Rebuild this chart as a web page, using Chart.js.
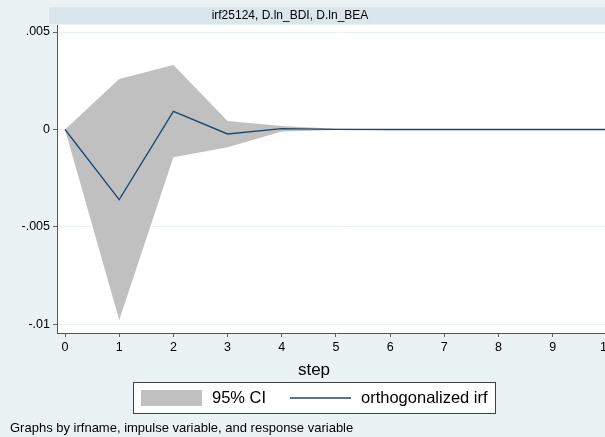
<!DOCTYPE html>
<html>
<head>
<meta charset="utf-8">
<script src="https://cdn.jsdelivr.net/npm/chart.js@4"></script>
<style>
  html, body { margin: 0; padding: 0; background: #eaf2f3; overflow: hidden; }
  #wrap { width: 605px; height: 437px; overflow: hidden; position: relative; }
  canvas { display: block; }
</style>
</head>
<body>
<div id="wrap"><canvas id="c" width="640" height="437"></canvas></div>
<script>
// Impulse response of D.ln_BEA to an orthogonalized shock in D.ln_BDI
const steps = [0, 1, 2, 3, 4, 5, 6, 7, 8, 9, 10];
const irf   = [0, -0.0036, 0.00093, -0.00023, 0.00004, 0.00001, 0, 0, 0, 0, 0];
const ciUpper = [0, 0.00259, 0.00331, 0.00044, 0.00018, 0.00004, 0.00001, 0, 0, 0, 0];
const ciLower = [0, -0.00977, -0.00143, -0.00091, -0.0001, -0.00002, -0.00001, 0, 0, 0, 0];
const yTicks = [-0.01, -0.005, 0, 0.005];
const xTicks = [0, 1, 2, 3, 4, 5, 6, 7, 8, 9, 10];
const panelTitle = 'irf25124, D.ln_BDI, D.ln_BEA';
const xTitle = 'step';
const legendLabels = ['95% CI', 'orthogonalized irf'];
const byNote = 'Graphs by irfname, impulse variable, and response variable';

const FONT = 'Liberation Sans, Arial, sans-serif';
const LINE_COLOR = '#1a476f';
const BAND_COLOR = '#c0c0c0';

function fmtTick(v) {
  if (Math.abs(v) < 1e-12) return '0';
  let s = String(+v.toFixed(6));
  return s.replace(/^(-?)0\./, '$1.');
}

const pts = arr => steps.map((s, i) => ({ x: s, y: arr[i] }));

// Panel strip, axis title, legend box and note drawn around the plot region
const decor = {
  id: 'decor',
  beforeDraw(chart) {
    const { ctx, chartArea } = chart;
    ctx.save();
    ctx.fillStyle = '#eaf2f3';
    ctx.fillRect(0, 0, chart.width, chart.height);
    // title strip
    ctx.fillStyle = '#d9e6eb';
    ctx.fillRect(49, 7, chart.width - 49, 17);
    ctx.fillStyle = '#000';
    ctx.font = '12px ' + FONT;
    ctx.textAlign = 'center';
    ctx.textBaseline = 'middle';
    ctx.fillText(panelTitle, 290, 16);
    // white plot region
    ctx.fillStyle = '#ffffff';
    ctx.fillRect(chartArea.left, chartArea.top, chartArea.right - chartArea.left, chartArea.bottom - chartArea.top);
    ctx.restore();
  },
  afterDraw(chart) {
    const { ctx } = chart;
    ctx.save();
    // x axis title
    ctx.fillStyle = '#000';
    ctx.font = '17px ' + FONT;
    ctx.textAlign = 'center';
    ctx.textBaseline = 'middle';
    ctx.fillText(xTitle, 314, 370);
    // legend box
    ctx.fillStyle = '#ffffff';
    ctx.fillRect(133.5, 382.5, 362, 31);
    ctx.strokeStyle = '#404040';
    ctx.lineWidth = 1;
    ctx.strokeRect(133.5, 382.5, 362, 31);
    ctx.fillStyle = BAND_COLOR;
    ctx.fillRect(141, 390, 61, 16);
    ctx.strokeStyle = LINE_COLOR;
    ctx.lineWidth = 1.3;
    ctx.beginPath();
    ctx.moveTo(290, 398);
    ctx.lineTo(351, 398);
    ctx.stroke();
    ctx.fillStyle = '#000';
    ctx.font = '16.5px ' + FONT;
    ctx.textAlign = 'left';
    ctx.textBaseline = 'middle';
    ctx.fillText(legendLabels[0], 212, 398);
    ctx.fillText(legendLabels[1], 361, 398);
    // note
    ctx.font = '13px ' + FONT;
    ctx.fillText(byNote, 10, 428);
    ctx.restore();
  }
};

new Chart(document.getElementById('c'), {
  type: 'line',
  data: {
    datasets: [
      {
        label: legendLabels[1],
        data: pts(irf),
        borderColor: LINE_COLOR,
        borderWidth: 1.3,
        pointRadius: 0,
        fill: false,
        tension: 0
      },
      {
        label: 'upper',
        data: pts(ciUpper),
        borderWidth: 0,
        borderColor: 'rgba(0,0,0,0)',
        backgroundColor: BAND_COLOR,
        pointRadius: 0,
        fill: '+1',
        tension: 0
      },
      {
        label: 'lower',
        data: pts(ciLower),
        borderWidth: 0,
        borderColor: 'rgba(0,0,0,0)',
        backgroundColor: BAND_COLOR,
        pointRadius: 0,
        fill: false,
        tension: 0
      }
    ]
  },
  options: {
    responsive: false,
    animation: false,
    devicePixelRatio: 1,
    layout: { padding: { top: 25, left: 0, right: 25, bottom: 0 } },
    plugins: { legend: { display: false }, tooltip: { enabled: false } },
    scales: {
      x: {
        type: 'linear',
        min: -0.148,
        max: 10.15,
        afterBuildTicks(scale) { scale.ticks = xTicks.map(v => ({ value: v })); },
        afterFit(scale) { scale.height = 104; },
        ticks: {
          color: '#000',
          font: { family: FONT, size: 12.5 },
          padding: 3,
          maxRotation: 0,
          autoSkip: false,
          callback: v => String(v)
        },
        grid: {
          drawOnChartArea: false,
          tickLength: 4,
          tickColor: '#666',
          color: '#666'
        },
        border: { display: true, color: '#555', width: 1 },
        title: { display: false }
      },
      y: {
        type: 'linear',
        min: -0.01044,
        max: 0.00536,
        afterBuildTicks(scale) { scale.ticks = yTicks.map(v => ({ value: v })); },
        afterFit(scale) { scale.width = 57; },
        ticks: {
          color: '#000',
          font: { family: FONT, size: 12.5 },
          padding: 3,
          autoSkip: false,
          callback: v => fmtTick(v)
        },
        grid: {
          color: '#eaf2f3',
          lineWidth: 1,
          tickLength: 4,
          tickColor: '#666'
        },
        border: { display: true, color: '#555', width: 1 }
      }
    }
  },
  plugins: [decor]
});
</script>
</body>
</html>
